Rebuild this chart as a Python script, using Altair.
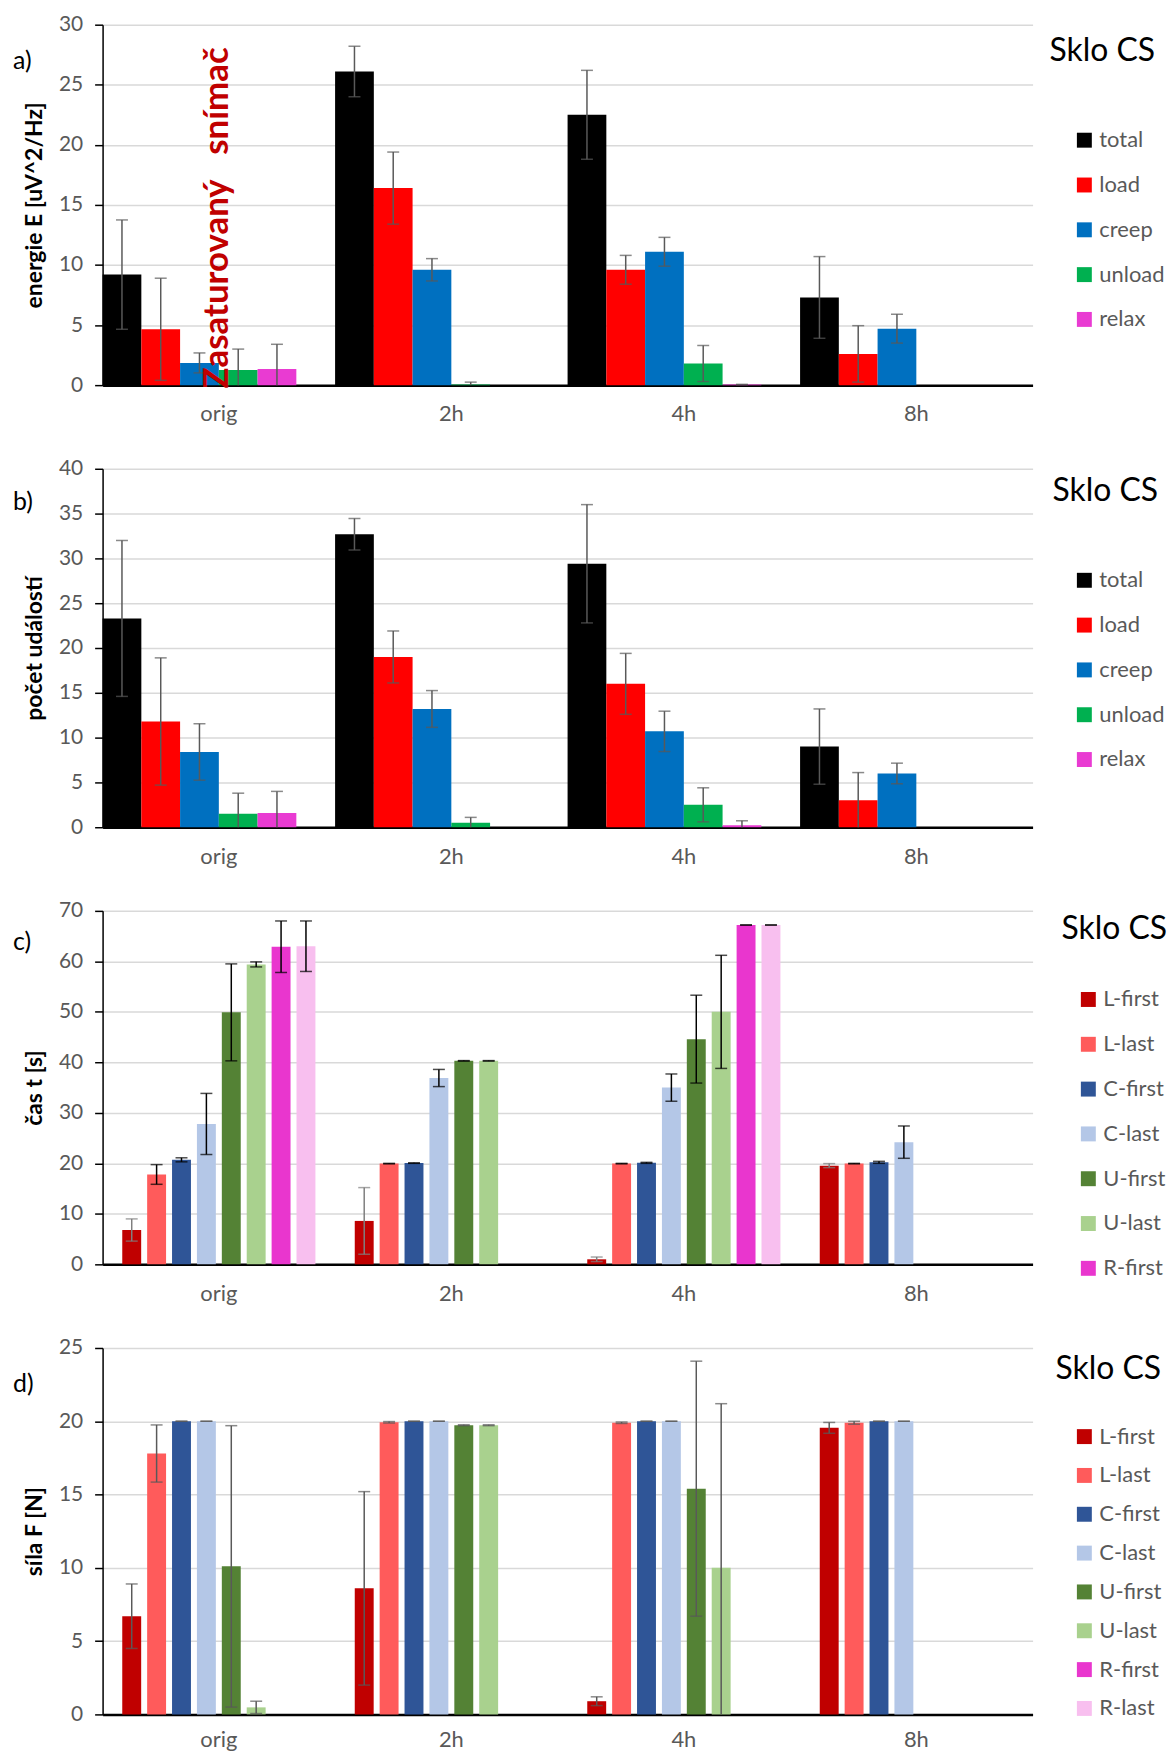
import altair as alt
import pandas as pd

N = None
cats = ["orig", "2h", "4h", "8h"]

series_ab = ["total", "load", "creep", "unload", "relax"]
colors_ab = ["#000000", "#FF0000", "#0070C0", "#00B050", "#E93BD2"]
slots_ab = series_ab + ["_"]

series_cd = ["L-first", "L-last", "C-first", "C-last", "U-first", "U-last", "R-first", "R-last"]
colors_cd = ["#C00000", "#FF5B5B", "#2F5597", "#B4C7E7", "#548235", "#A9D18E", "#E936CE", "#F8BFEF"]

# a) energie E
a_total = [9.2, 26.1, 22.5, 7.3];    a_total_sd = [4.55, 2.1, 3.7, 3.4]
a_load = [4.65, 16.4, 9.6, 2.6];     a_load_sd = [4.25, 3.0, 1.2, 2.35]
a_creep = [1.85, 9.6, 11.1, 4.7];    a_creep_sd = [0.83, 0.93, 1.2, 1.2]
a_unload = [1.25, 0.05, 1.8, N];     a_unload_sd = [1.75, 0.2, 1.5, N]
a_relax = [1.35, N, 0.05, N];        a_relax_sd = [2.05, N, 0.0, N]

# b) pocet udalosti
b_total = [23.3, 32.7, 29.4, 9.0];   b_total_sd = [8.7, 1.75, 6.6, 4.2]
b_load = [11.8, 19.0, 16.0, 3.0];    b_load_sd = [7.1, 2.9, 3.4, 3.1]
b_creep = [8.4, 13.2, 10.7, 6.0];    b_creep_sd = [3.15, 2.05, 2.25, 1.15]
b_unload = [1.5, 0.5, 2.5, N];       b_unload_sd = [2.3, 0.6, 1.9, N]
b_relax = [1.6, N, 0.22, N];         b_relax_sd = [2.4, N, 0.5, N]

# c) cas t
c_Lfirst = [6.8, 8.6, 1.0, 19.55];   c_Lfirst_sd = [2.2, 6.6, 0.45, 0.4]
c_Llast = [17.8, 19.95, 19.95, 19.95]; c_Llast_sd = [1.95, 0.05, 0.05, 0.05]
c_Cfirst = [20.7, 20.05, 20.1, 20.2]; c_Cfirst_sd = [0.4, 0.05, 0.1, 0.2]
c_Clast = [27.8, 36.9, 35.0, 24.2];  c_Clast_sd = [6.05, 1.7, 2.7, 3.2]
c_Ufirst = [49.9, 40.3, 44.6, N];    c_Ufirst_sd = [9.6, 0.05, 8.7, N]
c_Ulast = [59.4, 40.3, 50.0, N];     c_Ulast_sd = [0.5, 0.05, 11.2, N]
c_Rfirst = [62.9, N, 67.2, N];       c_Rfirst_sd = [5.1, N, 0.0, N]
c_Rlast = [63.0, N, 67.2, N];        c_Rlast_sd = [5.0, N, 0.0, N]

# d) sila F
d_Lfirst = [6.7, 8.6, 0.9, 19.55];   d_Lfirst_sd = [2.2, 6.6, 0.3, 0.37]
d_Llast = [17.8, 19.93, 19.9, 19.9]; d_Llast_sd = [1.95, 0.05, 0.05, 0.1]
d_Cfirst = [20.0, 20.0, 20.0, 20.0]; d_Cfirst_sd = [0.0, 0.0, 0.0, 0.0]
d_Clast = [20.0, 20.0, 20.0, 20.0];  d_Clast_sd = [0.0, 0.0, 0.0, 0.0]
d_Ufirst = [10.1, 19.73, 15.4, N];   d_Ufirst_sd = [9.6, 0.03, 8.7, N]
d_Ulast = [0.48, 19.73, 10.0, N];    d_Ulast_sd = [0.42, 0.03, 11.2, N]
d_Rfirst = [N, N, N, N];             d_Rfirst_sd = [N, N, N, N]
d_Rlast = [N, N, N, N];              d_Rlast_sd = [N, N, N, N]

FONT = "Lato"
GRAY = "#595959"


def build(series, means, sds):
    rows = []
    for s, ml, sl in zip(series, means, sds):
        for c, m, sd in zip(cats, ml, sl):
            if m is None:
                continue
            lo = m - sd
            rows.append({"cat": c, "series": s, "val": m, "hi": m + sd,
                         "lo": max(lo, 0.0), "lo_ok": bool(lo >= 0)})
    return pd.DataFrame(rows)


df_a = build(series_ab, [a_total, a_load, a_creep, a_unload, a_relax],
             [a_total_sd, a_load_sd, a_creep_sd, a_unload_sd, a_relax_sd])
df_b = build(series_ab, [b_total, b_load, b_creep, b_unload, b_relax],
             [b_total_sd, b_load_sd, b_creep_sd, b_unload_sd, b_relax_sd])
df_c = build(series_cd, [c_Lfirst, c_Llast, c_Cfirst, c_Clast, c_Ufirst, c_Ulast, c_Rfirst, c_Rlast],
             [c_Lfirst_sd, c_Llast_sd, c_Cfirst_sd, c_Clast_sd, c_Ufirst_sd, c_Ulast_sd, c_Rfirst_sd, c_Rlast_sd])
df_d = build(series_cd, [d_Lfirst, d_Llast, d_Cfirst, d_Clast, d_Ufirst, d_Ulast, d_Rfirst, d_Rlast],
             [d_Lfirst_sd, d_Llast_sd, d_Cfirst_sd, d_Clast_sd, d_Ufirst_sd, d_Ulast_sd, d_Rfirst_sd, d_Rlast_sd])


def text_layer(txt, x, y, size, color="black", weight="normal", align="left", angle=0):
    return alt.Chart(pd.DataFrame({"t": [txt]})).mark_text(
        align=align, baseline="middle", fontSize=size, font=FONT, color=color,
        fontWeight=weight, angle=angle
    ).encode(text="t:N", x=alt.value(x), y=alt.value(y))


def panel(df, series, colors, slots, pin, pout, ymax, ystep, ytitle, height,
          legend_vals, lx, ly, rowpad, err_color, label, label_y, sklo_x, sklo_y,
          xlabpad=19, extra=()):
    xenc = alt.X("cat:N", sort=cats,
                 scale=alt.Scale(domain=cats, paddingInner=0, paddingOuter=0),
                 axis=alt.Axis(title=None, labelAngle=0, ticks=False, tickSize=0,
                               domainColor="black", domainWidth=2.5,
                               labelFontSize=22, labelColor=GRAY, labelFont=FONT,
                               labelPadding=xlabpad))
    xoff = alt.XOffset("series:N", scale=alt.Scale(domain=slots, paddingInner=pin, paddingOuter=pout))
    yscale = alt.Scale(domain=[0, ymax], nice=False)
    yaxis = alt.Axis(values=list(range(0, ymax + 1, ystep)), title=ytitle, titleFont=FONT,
                     titleFontSize=23, titleFontWeight="bold", titleColor="black",
                     titlePadding=12, labelFont=FONT, labelFontSize=21, labelColor=GRAY,
                     labelPadding=12, tickSize=8, tickColor="black", tickWidth=1.5,
                     domainColor="black", domainWidth=1.5, gridColor="#D9D9D9", gridWidth=1.5)
    base = alt.Chart(df)
    bars = base.mark_bar().encode(
        x=xenc, xOffset=xoff,
        y=alt.Y("val:Q", scale=yscale, axis=yaxis),
        color=alt.Color("series:N", scale=alt.Scale(domain=series, range=colors),
                        legend=alt.Legend(title=None, orient="none", legendX=lx, legendY=ly,
                                          direction="vertical", symbolType="square",
                                          symbolSize=225, symbolStrokeWidth=0,
                                          labelFont=FONT, labelFontSize=22, labelColor=GRAY,
                                          labelOffset=4, rowPadding=rowpad, padding=0,
                                          values=legend_vals)),
    )
    rules = base.mark_rule(strokeWidth=1.5).encode(
        x=xenc, xOffset=xoff, y=alt.Y("lo:Q", scale=yscale, axis=yaxis), y2="hi:Q", color=err_color)
    cap_hi = base.mark_tick(thickness=1.5, size=12).encode(
        x=xenc, xOffset=xoff, y=alt.Y("hi:Q", scale=yscale, axis=yaxis), color=err_color)
    cap_lo = base.transform_filter("datum.lo_ok").mark_tick(thickness=1.5, size=12).encode(
        x=xenc, xOffset=xoff, y=alt.Y("lo:Q", scale=yscale, axis=yaxis), color=err_color)
    layers = [bars, rules, cap_hi, cap_lo,
              text_layer(label, -90, label_y, 25),
              text_layer("Sklo CS", sklo_x, sklo_y, 32)] + list(extra)
    return alt.layer(*layers).properties(width=934, height=height)


gray_err = alt.value(GRAY)
c_err = alt.condition("datum.series === 'L-first'", alt.value("#7F7F7F"), alt.value("#000000"))

red_note = text_layer("Zasaturovaný\u00a0\u00a0\u00a0snímač", 115, 194, 35, color="#C00000",
                      weight="bold", align="center", angle=270)

pa = panel(df_a, series_ab, colors_ab, slots_ab, 0, 0, 30, 5, "energie E [uV^2/Hz]", 362,
           series_ab, 975, 105, 23, gray_err, "a)", 36, 951, 26, extra=[red_note])
pb = panel(df_b, series_ab, colors_ab, slots_ab, 0, 0, 40, 5, "počet událostí", 360,
           series_ab, 975, 101, 23, gray_err, "b)", 33, 954, 22)
pc = panel(df_c, series_cd, colors_cd, series_cd, 0.24, 0.79, 70, 10, "čas t [s]", 355,
           series_cd[:7], 979, 78, 23, c_err, "c)", 31, 963, 18)
pdd = panel(df_d, series_cd, colors_cd, series_cd, 0.24, 0.79, 25, 5, "síla F [N]", 368,
            series_cd, 975, 78, 17, gray_err, "d)", 36, 957, 21, xlabpad=15)

chart = alt.vconcat(pa, pb, pc, pdd, spacing=84, bounds="flush").resolve_scale(
    color="independent", xOffset="independent", y="independent"
).properties(
    padding={"left": 5, "top": 2, "right": 0, "bottom": 0}
).configure(font=FONT).configure_view(stroke=None)

chart.save("out.html", embed_options={"renderer": "svg", "actions": False})
